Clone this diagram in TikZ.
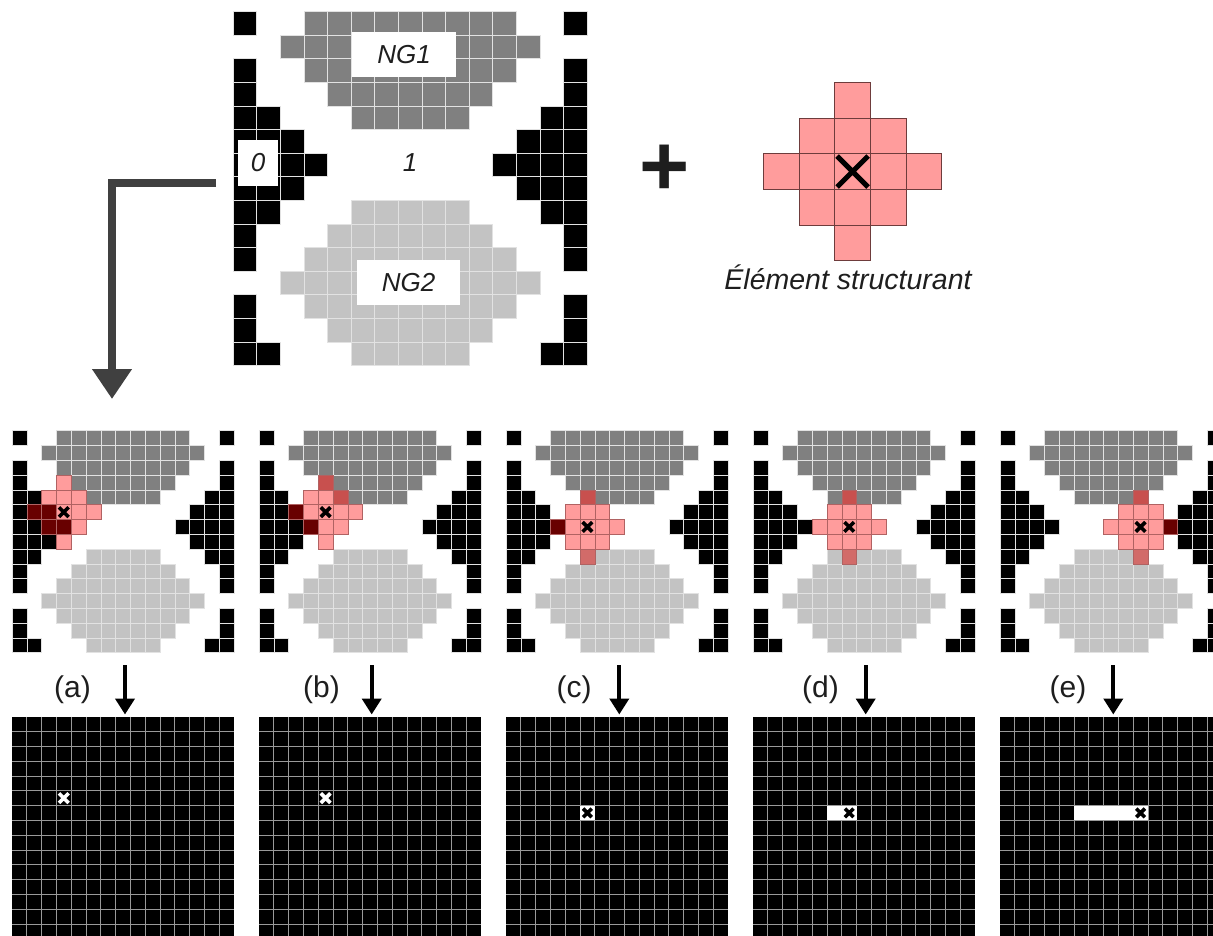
\documentclass[tikz,border=0pt]{standalone}
\usepackage{fontspec}
\setmainfont{Liberation Sans}
\usetikzlibrary{arrows.meta}
\definecolor{ngone}{HTML}{808080}
\definecolor{ngtwo}{HTML}{C3C3C3}
\definecolor{sepink}{HTML}{FF9C9C}
\definecolor{sedark}{HTML}{680000}
\definecolor{semid}{HTML}{C8504E}
\definecolor{semidl}{HTML}{D26B69}
\definecolor{sebord}{HTML}{B06262}
\definecolor{sebordtop}{HTML}{6E3C3C}
\definecolor{arrgray}{HTML}{404040}
\definecolor{txt}{HTML}{1E1E1E}
\definecolor{cellline}{HTML}{E2E2E2}
\definecolor{outline}{HTML}{9A9A9A}

\newcommand\gcell[3]{\path[#1] ({\ox+(#2)*\cs},{\oy+(#3)*\cs}) rectangle ++(\cs,\cs);}
\newcommand\grow[4]{\foreach \gc in {#3,...,#4}{\gcell{#1}{\gc}{#2}}}
\newcommand\basegrid{%
  \foreach \r/\a/\b in {0/0/0,2/0/0,3/0/0,4/0/1,5/0/2,6/0/3,7/0/2,8/0/1,9/0/0,10/0/0,12/0/0,13/0/0,14/0/1}{\grow{blk}{\r}{\a}{\b}}%
  \foreach \r/\a/\b in {0/14/14,2/14/14,3/14/14,4/13/14,5/12/14,6/11/14,7/12/14,8/13/14,9/14/14,10/14/14,12/14/14,13/14/14,14/13/14}{\grow{blk}{\r}{\a}{\b}}%
  \foreach \r/\a/\b in {0/3/11,1/2/12,2/3/11,3/4/10,4/5/9}{\grow{dg}{\r}{\a}{\b}}%
  \foreach \r/\a/\b in {8/5/9,9/4/10,10/3/11,11/2/12,12/3/11,13/4/10,14/5/9}{\grow{lg}{\r}{\a}{\b}}%
}
\newcommand\sediamond[2]{\foreach \dx/\dy in {0/-2,-1/-1,0/-1,1/-1,-2/0,-1/0,0/0,1/0,2/0,-1/1,0/1,1/1,0/2}{\gcell{pk}{(#1)+(\dx)}{(#2)+(\dy)}}}
\newcommand\xmark[4]{\draw[#1] ({\ox+(#2+0.5)*\cs-#4},{\oy+(#3+0.5)*\cs-#4}) -- ++({2*#4},{2*#4}) ({\ox+(#2+0.5)*\cs-#4},{\oy+(#3+0.5)*\cs+#4}) -- ++({2*#4},{-2*#4});}
\newcommand\outpanel{\fill[black] (\ox,\oy) rectangle ++({15*\cs},{15*\cs});
  \foreach \i in {1,...,14}{\draw[outgl] ({\ox+\i*\cs},\oy) -- ++(0,{15*\cs}); \draw[outgl] (\ox,{\oy+\i*\cs}) -- ++({15*\cs},0);}}

\begin{document}
\begin{tikzpicture}[x=1pt,y=-1pt,
  gridw/.style={line width=0.9pt},
  blk/.style={gridw,fill=black,draw=cellline},
  dg/.style={gridw,fill=ngone,draw=cellline},
  lg/.style={gridw,fill=ngtwo,draw=cellline},
  pk/.style={gridw,fill=sepink,draw=sebord},
  dr/.style={gridw,fill=sedark,draw=sebord},
  mr/.style={gridw,fill=semid,draw=sebord},
  ml/.style={gridw,fill=semidl,draw=sebord},
  wc/.style={fill=white},
  xk/.style={draw=black,line width=3.6pt},
  xw/.style={draw=white,line width=3.6pt},
  outgl/.style={draw=outline,line width=0.8pt},
  lab/.style={font=\fontsize{26}{26}\selectfont\itshape,text=txt,inner sep=0pt},
  labbox/.style={lab,fill=white},
  plab/.style={font=\fontsize{30}{30}\selectfont,text=txt,inner sep=0pt},
  bigarr/.style={draw=arrgray,line width=8pt,-{Triangle[width=38pt,length=30pt]}},
  smallarr/.style={draw=black,line width=4pt,-{Triangle[width=19pt,length=16pt]}}]
\clip (0,0) rectangle (1213,935);
\fill[white] (0,0) rectangle (1213,935);

% ---------- top image ----------
\begin{scope}
\def\ox{233.3}\def\oy{11.7}\def\cs{23.6}
\basegrid
\end{scope}
\node[labbox,minimum width=104pt,minimum height=45pt] (ngA) at (404,54.5) {NG1};
\node[labbox,minimum width=103pt,minimum height=45pt] (ngB) at (408.5,282.5) {NG2};
\node[labbox,minimum width=40pt,minimum height=46pt] (zero) at (258,163) {0};
\node[lab] (one) at (410,163) {1};

% ---------- plus ----------
\node[font=\fontsize{86}{86}\selectfont\bfseries,text=txt,inner sep=0pt] (plus) at (665,170) {+};

% ---------- structuring element ----------
\begin{scope}[pk/.style={fill=sepink,draw=sebordtop,line width=1pt}]
\def\ox{763.3}\def\oy{82.3}\def\cs{35.7}
\sediamond{2}{2}
\xmark{draw=black,line width=5pt}{2}{2}{15.5}
\end{scope}
\node[lab,font=\fontsize{28.5}{28.5}\selectfont\itshape,anchor=base] (selab) at (848,289) {Élément structurant};

% ---------- L arrow ----------
\coordinate (Lstart) at (216,183);
\coordinate (Lend) at (112,399);
\draw[bigarr] (Lstart) -| (Lend);

% ---------- input panels ----------
\begin{scope}[gridw/.style={line width=0.5pt}]
\def\cs{14.8}\def\oy{430.7}
% (a)
\def\ox{12}
\basegrid
\sediamond{3}{5}
\gcell{dr}{1}{5}\gcell{dr}{2}{5}\gcell{dr}{2}{6}\gcell{dr}{3}{6}
\xmark{xk}{3}{5}{4.8}
% (b)
\def\ox{259}
\basegrid
\sediamond{4}{5}
\gcell{mr}{4}{3}\gcell{mr}{5}{4}
\gcell{dr}{2}{5}\gcell{dr}{3}{6}
\xmark{xk}{4}{5}{4.8}
% (c)
\def\ox{506}
\basegrid
\sediamond{5}{6}
\gcell{mr}{5}{4}\gcell{ml}{5}{8}
\gcell{dr}{3}{6}
\xmark{xk}{5}{6}{4.8}
% (d)
\def\ox{753}
\basegrid
\sediamond{6}{6}
\gcell{mr}{6}{4}\gcell{ml}{6}{8}
\xmark{xk}{6}{6}{4.8}
% (e)
\def\ox{1000}
\basegrid
\sediamond{9}{6}
\gcell{mr}{9}{4}\gcell{ml}{9}{8}
\gcell{dr}{11}{6}
\xmark{xk}{9}{6}{4.8}
\end{scope}

% ---------- output panels ----------
\begin{scope}
\def\cs{14.8}\def\oy{716.7}
\def\ox{12}\outpanel
\xmark{xw}{3}{5}{4.8}
\def\ox{259}\outpanel
\xmark{xw}{4}{5}{4.8}
\def\ox{506}\outpanel
\gcell{wc}{5}{6}
\xmark{xk}{5}{6}{4.3}
\def\ox{753}\outpanel
\gcell{wc}{5}{6}\gcell{wc}{6}{6}
\xmark{xk}{6}{6}{4.3}
\def\ox{1000}\outpanel
\foreach \c in {5,...,9}{\gcell{wc}{\c}{6}}
\xmark{xk}{9}{6}{4.3}
\end{scope}

% ---------- labels and arrows ----------
\node[plab] (labA) at (72.5,690) {(a)};
\node[plab] (labB) at (321.5,690) {(b)};
\node[plab] (labC) at (574,690) {(c)};
\node[plab] (labD) at (820.5,690) {(d)};
\node[plab] (labE) at (1068,690) {(e)};
\foreach \n/\x in {A/125,B/371.7,C/619.3,D/865.7,E/1113.3}{
  \coordinate (as\n) at (\x,665);
  \coordinate (ae\n) at (\x,714.5);
  \draw[smallarr] (as\n) -- (ae\n);
}
\end{tikzpicture}
\end{document}
